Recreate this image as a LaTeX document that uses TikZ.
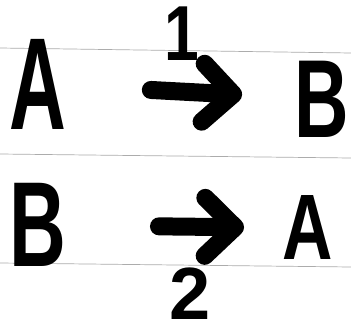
\documentclass[tikz,border=0pt]{standalone}
\usepackage{fontspec}
\setmainfont{Liberation Sans}
\usetikzlibrary{arrows.meta}
\tikzset{
  hand/.style={font=\bfseries\fontsize{#1}{#1}\selectfont, inner sep=0pt, text=black},
  harrow/.style={line width=18pt, line cap=round, line join=round,
    -{Straight Barb[round, length=30pt, width=58pt]}},
  ruled/.style={gray!65, line width=0.7pt}
}
\begin{document}
\begin{tikzpicture}[x=1pt, y=-1pt]
\useasboundingbox (0,0) rectangle (351,327);
\fill[white] (0,0) rectangle (351,327);
% ruled lines
\draw[ruled] (0,48) -- (351,53);
\draw[ruled] (0,154) -- (351,158);
\draw[ruled] (0,263) -- (351,267);
% nodes
\node[hand=131pt] (A1) at (38,84) {\scalebox{0.6}[1]{A}};
\node[hand=111pt] (B1) at (322,99) {\scalebox{0.68}[1]{B}};
\node[hand=121pt] (B2) at (38,225) {\scalebox{0.65}[1]{B}};
\node[hand=93pt] (A2) at (308,228) {\scalebox{0.75}[1]{A}};
\node[hand=78pt] (l1) at (182,34) {\scalebox{0.8}[1]{1}};
\node[hand=74pt] (l2) at (190,294) {2};
% connectors
\draw[harrow, shorten <=113pt, shorten >=80pt] (A1.center) -- (B1.center);
\draw[harrow, shorten <=121pt, shorten >=64pt] (B2.center) -- (A2.center);
\end{tikzpicture}
\end{document}
